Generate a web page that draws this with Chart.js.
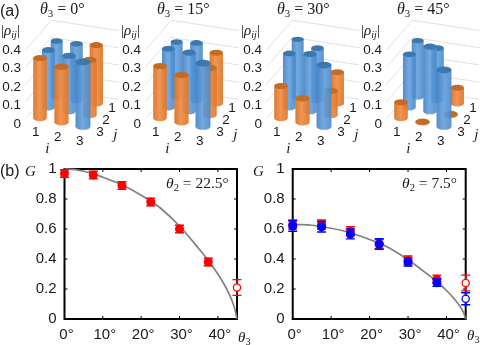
<!DOCTYPE html>
<html>
<head>
<meta charset="utf-8">
<script src="https://cdn.jsdelivr.net/npm/chart.js@4"></script>
<style>
html, body { margin: 0; padding: 0; background: #fff; }
#page { position: relative; width: 480px; height: 345px; overflow: hidden; }
canvas { position: absolute; }
.t { position: absolute; white-space: nowrap; line-height: 1; color: #1a1a1a; }
.serif { font-family: "Liberation Serif", serif; }
.sans { font-family: "Liberation Sans", sans-serif; }
.t sub { font-size: 0.68em; line-height: 0; vertical-align: -0.25em; }
</style>
</head>
<body>
<div id="page">
  <canvas id="p0"></canvas><canvas id="p1"></canvas><canvas id="p2"></canvas><canvas id="p3"></canvas>
  <canvas id="g1"></canvas><canvas id="g2"></canvas>

  <div class="t sans" style="left:0;top:3px;font-size:16px">(a)</div>
  <div class="t sans" style="left:0;top:163px;font-size:16px">(b)</div>

  <div class="t serif" style="left:40px;top:1px;font-size:16px"><i>θ</i><sub>3</sub> = 0°</div>
  <div class="t serif" style="left:157px;top:1px;font-size:16px"><i>θ</i><sub>3</sub> = 15°</div>
  <div class="t serif" style="left:277px;top:1px;font-size:16px"><i>θ</i><sub>3</sub> = 30°</div>
  <div class="t serif" style="left:397px;top:1px;font-size:16px"><i>θ</i><sub>3</sub> = 45°</div>

  <div class="t serif" style="left:1px;top:23px;font-size:15px">|<i>ρ</i><sub><i>ij</i></sub>|</div>
  <div class="t serif" style="left:121px;top:23px;font-size:15px">|<i>ρ</i><sub><i>ij</i></sub>|</div>
  <div class="t serif" style="left:241px;top:23px;font-size:15px">|<i>ρ</i><sub><i>ij</i></sub>|</div>
  <div class="t serif" style="left:361px;top:23px;font-size:15px">|<i>ρ</i><sub><i>ij</i></sub>|</div>

  <div class="t serif" style="left:25px;top:164px;font-size:15px"><i>G</i></div>
  <div class="t serif" style="left:253px;top:164px;font-size:15px"><i>G</i></div>
  <div class="t serif" style="left:166px;top:175px;font-size:15.5px"><i>θ</i><sub>2</sub> = 22.5°</div>
  <div class="t serif" style="left:402px;top:175px;font-size:15.5px"><i>θ</i><sub>2</sub> = 7.5°</div>
  <div class="t serif" style="left:238px;top:330px;font-size:15px"><i>θ</i><sub>3</sub></div>
  <div class="t serif" style="left:467px;top:328px;font-size:15px"><i>θ</i><sub>3</sub></div>
</div>

<script>
// (a) density matrix bars, rows are j = 1,2,3 and columns i = 1,2,3
const iLabels = ['1', '2', '3'];
const jLabels = ['1', '2', '3'];
const rhoTicks = [0, 0.1, 0.2, 0.3, 0.4];
const rho0 = [[0.344, 0.328, 0.322], [0.331, 0.303, 0.286], [0.324, 0.286, 0.318]];
const rho15 = [[0.338, 0.333, 0.280], [0.338, 0.320, 0.244], [0.281, 0.243, 0.311]];
const rho30 = [[0.354, 0.303, 0.173], [0.311, 0.313, 0.126], [0.173, 0.124, 0.302]];
const rho45 = [[0.346, 0.303, 0.087], [0.306, 0.353, 0.005], [0.085, 0.003, 0.278]];
const orangeCells = ['3,1', '3,2', '1,3', '2,3'];

// (b) visibility G against theta3
const thetaTicks = [0, 10, 20, 30, 40];
const gTicks = [0, 0.2, 0.4, 0.6, 0.8, 1];
const thetaPts = [0, 7.5, 15, 22.5, 30, 37.5];
const leftG = [0.97, 0.96, 0.89, 0.78, 0.60, 0.38];
const leftErr = [0.025, 0.025, 0.025, 0.025, 0.025, 0.025];
const leftOpenG = [0.21];
const leftOpenErr = [0.052];
const rightRedG = [0.63, 0.63, 0.585, 0.50, 0.39, 0.265];
const rightRedErr = [0.03, 0.03, 0.03, 0.03, 0.03, 0.028];
const rightBlueG = [0.62, 0.615, 0.567, 0.50, 0.38, 0.242];
const rightBlueErr = [0.035, 0.035, 0.033, 0.035, 0.027, 0.025];
const rightRedOpenG = [0.24];
const rightRedOpenErr = [0.053];
const rightBlueOpenG = [0.135];
const rightBlueOpenErr = [0.04];
const curveTheta = [0, 2.5, 5, 7.5, 10, 15, 20, 22.5, 25, 30, 35, 37.5, 40, 42, 43.5, 44.5, 45];
const leftCurve = [1, 0.997, 0.985, 0.968, 0.945, 0.895, 0.825, 0.785, 0.74, 0.62, 0.47, 0.39, 0.30, 0.215, 0.135, 0.06, 0];
const rightCurve = [0.63, 0.629, 0.625, 0.615, 0.605, 0.575, 0.53, 0.505, 0.475, 0.395, 0.30, 0.25, 0.19, 0.135, 0.085, 0.04, 0];

function sizeCanvas(id, left, top, w, h) {
    const c = document.getElementById(id);
    c.width = w;
    c.height = h;
    c.style.left = left + 'px';
    c.style.top = top + 'px';
    c.style.width = w + 'px';
    c.style.height = h + 'px';
    return c;
}

// keep the plot area fixed, whatever room the tick labels ask for
function fixAxis(s, w, h) {
    if (w !== null) s.width = w;
    if (h !== null) s.height = h;
    s.paddingLeft = s.paddingRight = s.paddingTop = s.paddingBottom = 0;
}

// 3D scene: scale units are one i step across and one rho unit up
const stepPx = 21.5;
const rhoPx = 185;
function depthScale(u, v) { return 1 + 0.05 * u - 0.06 * v; }
function sceneX(u, v) { return u + v * (8.35 - 0.85 * u) / stepPx; }
function sceneY(u, v) { return (6 - 4.25 * u + v * (10.5 + 0.5 * u)) / rhoPx; }

const bars3d = {
    id: 'bars3d',
    afterDatasetsDraw(chart) {
        const { ctx, scales: { x, y } } = chart;
        const X = (u, v) => x.getPixelForValue(sceneX(u, v));
        const Y = (u, v, z) => y.getPixelForValue(sceneY(u, v) + z);

        // walls
        ctx.save();
        ctx.strokeStyle = '#e0e0e0';
        ctx.lineWidth = 1;
        rhoTicks.forEach(t => {
            const z = t * 0.93;
            ctx.beginPath();
            ctx.moveTo(X(-0.55, -0.3), Y(-0.55, -0.3, z));
            ctx.lineTo(X(-0.55, 2.6), Y(-0.55, 2.6, z));
            ctx.lineTo(X(2.95, 2.6), Y(2.95, 2.6, z));
            ctx.stroke();
        });
        ctx.restore();

        chart.data.datasets[0].data.forEach(p => {
            const f = depthScale(p.u, p.v);
            const cx = X(p.u, p.v);
            const by = Y(p.u, p.v, 0);
            const ty = Y(p.u, p.v, p.rho * f);
            const r = 6.8 * f;
            const ry = r * 0.45;
            const g = ctx.createLinearGradient(cx - r, 0, cx + r, 0);
            if (p.orange) {
                g.addColorStop(0, 'rgba(215,115,40,0.94)');
                g.addColorStop(0.45, 'rgba(242,142,72,0.94)');
                g.addColorStop(1, 'rgba(222,120,42,0.94)');
            } else {
                g.addColorStop(0, 'rgba(66,128,195,0.9)');
                g.addColorStop(0.45, 'rgba(100,160,222,0.9)');
                g.addColorStop(1, 'rgba(72,136,202,0.9)');
            }
            ctx.save();
            ctx.fillStyle = g;
            ctx.beginPath();
            ctx.ellipse(cx, by, r, ry, 0, 0, Math.PI);
            ctx.lineTo(cx - r, ty);
            ctx.lineTo(cx + r, ty);
            ctx.closePath();
            ctx.fill();
            ctx.fillStyle = p.orange ? '#c26c28' : '#3a78ad';
            ctx.beginPath();
            ctx.ellipse(cx, ty, r, ry, 0, 0, Math.PI * 2);
            ctx.fill();
            ctx.restore();
        });

        // i and j tick labels
        ctx.save();
        ctx.fillStyle = '#1a1a1a';
        ctx.font = '13.5px "Liberation Sans"';
        ctx.textAlign = 'center';
        ctx.textBaseline = 'middle';
        iLabels.forEach((s, k) => ctx.fillText(s, X(k, -0.5), Y(k, -0.5, -0.05)));
        jLabels.forEach((s, k) => ctx.fillText(s, X(2.79, 2 - k), Y(2.79, 2 - k, -0.012)));
        ctx.font = 'italic 15px "Liberation Serif"';
        ctx.fillText('i', X(0.7, -1), Y(0.7, -1, -0.093));
        ctx.fillText('j', X(3.5, 0), Y(3.5, 0, -0.01));
        ctx.restore();
    }
};

function makePanel(id, left, rho) {
    const points = [];
    rho.forEach((row, r) => row.forEach((val, c) => {
        points.push({
            x: sceneX(c, 2 - r),
            y: sceneY(c, 2 - r) + val,
            u: c,
            v: 2 - r,
            rho: val,
            orange: orangeCells.includes((c + 1) + ',' + (r + 1))
        });
    }));
    new Chart(sizeCanvas(id, left, 15, 120, 140), {
        type: 'scatter',
        data: { datasets: [{ data: points, pointRadius: 0 }] },
        options: {
            responsive: false,
            animation: false,
            layout: { padding: 0, autoPadding: false },
            plugins: { legend: { display: false }, tooltip: { enabled: false } },
            scales: {
                x: { display: false, min: -18 / stepPx, max: 80 / stepPx },
                y: {
                    min: -31 / rhoPx,
                    max: 109 / rhoPx,
                    border: { display: false },
                    grid: { display: false, drawTicks: false },
                    afterFit: s => fixAxis(s, 22, null),
                    afterBuildTicks: s => { s.ticks = rhoTicks.map(value => ({ value })); },
                    ticks: { padding: 1, color: '#1a1a1a', font: { family: 'Liberation Sans', size: 13.5 } }
                }
            }
        },
        plugins: [bars3d]
    });
}

makePanel('p0', 0, rho0);
makePanel('p1', 120, rho15);
makePanel('p2', 241, rho30);
makePanel('p3', 361, rho45);

// frame and inward ticks, under the marks
const frameTicks = {
    id: 'frameTicks',
    beforeDatasetsDraw(chart) {
        const { ctx, chartArea: a, scales: { x, y } } = chart;
        ctx.save();
        ctx.strokeStyle = '#000';
        ctx.lineWidth = 1;
        ctx.beginPath();
        x.ticks.forEach(t => {
            const px = x.getPixelForValue(t.value);
            ctx.moveTo(px, a.bottom); ctx.lineTo(px, a.bottom - 3);
            ctx.moveTo(px, a.top); ctx.lineTo(px, a.top + 3);
        });
        y.ticks.forEach(t => {
            const py = y.getPixelForValue(t.value);
            ctx.moveTo(a.left, py); ctx.lineTo(a.left + 3, py);
            ctx.moveTo(a.right, py); ctx.lineTo(a.right - 3, py);
        });
        ctx.stroke();
        ctx.lineWidth = 2;
        ctx.strokeRect(a.left, a.top, a.right - a.left, a.bottom - a.top);
        ctx.restore();
    }
};

// error bars, each one just under its own dataset
const errorBars = {
    id: 'errorBars',
    beforeDatasetDraw(chart, args) {
        const ds = chart.data.datasets[args.index];
        if (!ds.err) return;
        const { ctx, scales: { x, y } } = chart;
        ctx.save();
        ctx.strokeStyle = ds.borderColor;
        ctx.lineWidth = 1.3;
        ds.data.forEach((p, k) => {
            const px = x.getPixelForValue(p.x);
            const hi = y.getPixelForValue(p.y + ds.err[k]);
            const lo = y.getPixelForValue(p.y - ds.err[k]);
            ctx.beginPath();
            ctx.moveTo(px, hi); ctx.lineTo(px, lo);
            ctx.moveTo(px - 4.5, hi); ctx.lineTo(px + 4.5, hi);
            ctx.moveTo(px - 4.5, lo); ctx.lineTo(px + 4.5, lo);
            ctx.stroke();
        });
        ctx.restore();
    }
};

function pts(xs, ys) { return ys.map((v, k) => ({ x: xs[k], y: v })); }

function curveSet(ys) {
    return {
        data: pts(curveTheta, ys), showLine: true, pointRadius: 0,
        borderColor: '#808080', borderWidth: 1.7, cubicInterpolationMode: 'monotone', clip: false
    };
}
function filledSet(ys, err, color) {
    return {
        data: pts(thetaPts, ys), err, borderColor: color, backgroundColor: color,
        pointRadius: 4.5, pointBorderWidth: 0, showLine: false, clip: false
    };
}
function openSet(ys, err, color) {
    return {
        data: pts([45], ys), err, borderColor: color, backgroundColor: '#fff',
        pointRadius: 3.6, pointBorderWidth: 1.3, showLine: false, clip: false
    };
}

function makeG(id, left, width, axisLeft, plotRight, datasets) {
    new Chart(sizeCanvas(id, left, 160, width, 185), {
        type: 'scatter',
        data: { datasets },
        options: {
            responsive: false,
            animation: false,
            layout: { padding: { top: 9, right: width - plotRight }, autoPadding: false },
            plugins: { legend: { display: false }, tooltip: { enabled: false } },
            scales: {
                x: {
                    min: 0, max: 45,
                    border: { display: false },
                    grid: { display: false, drawTicks: false },
                    afterFit: s => fixAxis(s, null, 26),
                    afterBuildTicks: s => { s.ticks = thetaTicks.map(value => ({ value })); },
                    ticks: {
                        padding: 7, maxRotation: 0, labelOffset: 2, color: '#1a1a1a',
                        font: { family: 'Liberation Sans', size: 15 },
                        callback: v => v + '°'
                    }
                },
                y: {
                    min: 0, max: 1,
                    border: { display: false },
                    grid: { display: false, drawTicks: false },
                    afterFit: s => fixAxis(s, axisLeft, null),
                    afterBuildTicks: s => { s.ticks = gTicks.map(value => ({ value })); },
                    ticks: {
                        padding: 8, color: '#1a1a1a',
                        font: { family: 'Liberation Sans', size: 15 },
                        callback: v => String(v)
                    }
                }
            }
        },
        plugins: [frameTicks, errorBars]
    });
}

// datasets are drawn last to first, so the curve goes at the end
makeG('g1', 0, 243, 64.5, 237, [
    openSet(leftOpenG, leftOpenErr, '#ff0000'),
    filledSet(leftG, leftErr, '#ff0000'),
    curveSet(leftCurve)
]);
makeG('g2', 243, 237, 49.7, 222.7, [
    openSet(rightBlueOpenG, rightBlueOpenErr, '#0000ff'),
    openSet(rightRedOpenG, rightRedOpenErr, '#ff0000'),
    filledSet(rightBlueG, rightBlueErr, '#0000ff'),
    filledSet(rightRedG, rightRedErr, '#ff0000'),
    curveSet(rightCurve)
]);
</script>
</body>
</html>
